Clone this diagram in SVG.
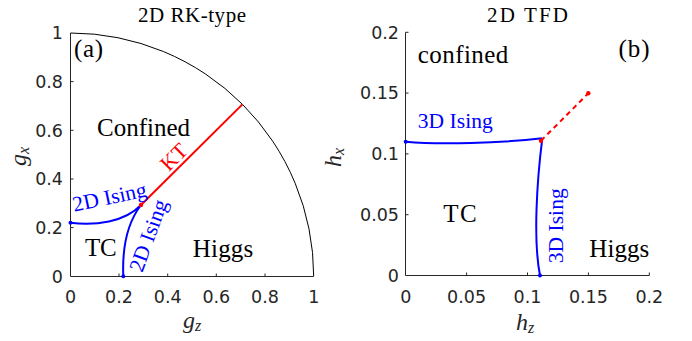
<svg xmlns="http://www.w3.org/2000/svg" width="692" height="341" viewBox="0 0 692 341">
<style>
.ax{stroke:#262626;stroke-width:1;fill:none}
.tk{font-family:"DejaVu Sans",sans-serif;font-size:17.5px;fill:#262626}
.tkr{text-anchor:end}
.tkc{text-anchor:middle}
.lb{font-family:"Liberation Serif","Times New Roman",serif;font-size:25px;fill:#000}
.tt{font-family:"Liberation Serif","Times New Roman",serif;font-size:21px;fill:#000;text-anchor:middle}
.bl{font-family:"Liberation Serif","Times New Roman",serif;font-size:21.5px;fill:#0000ff}
.rd{font-family:"Liberation Serif","Times New Roman",serif;font-size:21.5px;fill:#ff0000}
.al{font-family:"Liberation Serif","Times New Roman",serif;font-style:italic;font-size:24px;fill:#262626}
.bc{stroke:#0000ff;stroke-width:2;fill:none}
.rc{stroke:#ff0000;stroke-width:2;fill:none}
.bd{fill:#0000ff}
.rdot{fill:#ff0000}
</style>
<rect width="692" height="341" fill="#fff"/>

<g id="panel-a">
  <text class="tt" x="192" y="22" textLength="108">2D RK-type</text>
  <g id="axes-a">
    <path class="ax" d="M70.5,33 V276.5 H313.7"/>
    <path class="ax" d="M119,276.5 V273.5 M167.7,276.5 V273.5 M216.3,276.5 V273.5 M265,276.5 V273.5 M70.5,227.6 H73.5 M70.5,179 H73.5 M70.5,130.3 H73.5 M70.5,81.6 H73.5"/>
    <path d="M70.5,33 A243.4,243.4 0 0 1 313.7,276.3" fill="none" stroke="#000" stroke-width="1"/>
    <g class="tk tkr">
      <text x="63" y="282.5">0</text>
      <text x="63" y="233.8">0.2</text>
      <text x="63" y="185.2">0.4</text>
      <text x="63" y="136.5">0.6</text>
      <text x="63" y="87.8">0.8</text>
      <text x="63" y="39.2">1</text>
    </g>
    <g class="tk tkc">
      <text x="70.5" y="303">0</text>
      <text x="119" y="303">0.2</text>
      <text x="167.7" y="303">0.4</text>
      <text x="216.3" y="303">0.6</text>
      <text x="265" y="303">0.8</text>
      <text x="313.7" y="303">1</text>
    </g>
    <text class="al" x="183" y="328">g<tspan font-size="16" dy="3">z</tspan></text>
    <text class="al" transform="translate(26,166) rotate(-90)">g<tspan font-size="16" dy="3">x</tspan></text>
  </g>
  <g id="connectors-a">
    <path class="bc" d="M70.3,222.7 C95,226 125,222 141,205"/>
    <path class="bc" d="M141,205 C128,222 122,245 123.3,276.3"/>
    <path class="rc" d="M141,205 L242.4,104.4"/>
    <circle class="bd" cx="70.5" cy="222.7" r="2"/>
    <circle class="bd" cx="123.3" cy="276.3" r="2"/>
    <circle class="rdot" cx="141" cy="205" r="2.2"/>
  </g>
  <g id="labels-a">
    <text class="lb" x="74" y="57" textLength="29">(a)</text>
    <text class="lb" x="97" y="136" textLength="93">Confined</text>
    <text class="lb" x="85" y="256" textLength="31.7">TC</text>
    <text class="lb" x="192.7" y="257" textLength="60.6">Higgs</text>
    <text class="bl" text-anchor="middle" transform="translate(111,204) rotate(-12)" textLength="75">2D Ising</text>
    <text class="bl" text-anchor="middle" transform="translate(155,238) rotate(-70)" textLength="75">2D Ising</text>
    <text class="rd" text-anchor="middle" transform="translate(179,162) rotate(-45)">KT</text>
  </g>
</g>

<g id="panel-b">
  <text class="tt" x="527.5" y="21.7" textLength="81">2D TFD</text>
  <g id="axes-b">
    <path class="ax" d="M405.5,32.3 V275.5 H649.3"/>
    <path class="ax" d="M466.6,275.5 V272.5 M527.5,275.5 V272.5 M588.4,275.5 V272.5 M649.3,275.5 V272.5 M405.5,214.7 H408.5 M405.5,153.9 H408.5 M405.5,93.1 H408.5 M405.5,32.3 H408.5"/>
    <g class="tk tkr">
      <text x="399" y="281.7">0</text>
      <text x="399" y="220.9">0.05</text>
      <text x="399" y="160.1">0.1</text>
      <text x="399" y="99.3">0.15</text>
      <text x="399" y="38.5">0.2</text>
    </g>
    <g class="tk tkc">
      <text x="405.7" y="303">0</text>
      <text x="466.6" y="303">0.05</text>
      <text x="527.5" y="303">0.1</text>
      <text x="588.4" y="303">0.15</text>
      <text x="649.3" y="303">0.2</text>
    </g>
    <text class="al" x="516" y="330">h<tspan font-size="16" dy="3">z</tspan></text>
    <text class="al" transform="translate(341,167) rotate(-90)">h<tspan font-size="16" dy="3">x</tspan></text>
  </g>
  <g id="connectors-b">
    <path class="bc" d="M405.7,141.7 C440,145 500,143 542.3,138.3"/>
    <path class="bc" d="M542.3,138.3 C537,180 533,240 540,275.5"/>
    <path class="rc" d="M541,140.7 L588.3,93.3" stroke-dasharray="5,4"/>
    <circle class="bd" cx="405.7" cy="141.7" r="2"/>
    <circle class="bd" cx="540" cy="275.5" r="2"/>
    <circle class="rdot" cx="541" cy="140.7" r="2.2"/>
    <circle class="rdot" cx="588.3" cy="93.3" r="2.2"/>
  </g>
  <g id="labels-b">
    <text class="lb" x="618.5" y="57" textLength="31">(b)</text>
    <text class="lb" x="417.7" y="63.3" textLength="90.6">confined</text>
    <text class="lb" x="443.3" y="221.7" textLength="33.4">TC</text>
    <text class="lb" x="589.3" y="257.3" textLength="60">Higgs</text>
    <text class="bl" x="417.7" y="128.3" textLength="75">3D Ising</text>
    <text class="bl" text-anchor="middle" transform="translate(563,225.8) rotate(-90)" textLength="75">3D Ising</text>
  </g>
</g>
</svg>
